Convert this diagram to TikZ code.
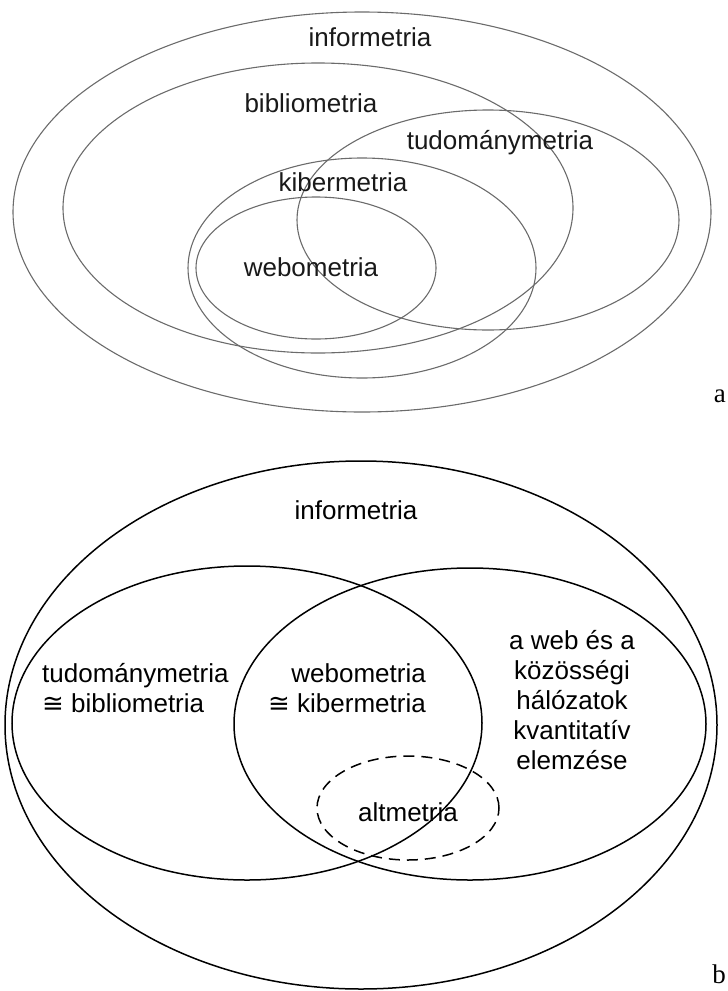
\documentclass[tikz,border=0pt]{standalone}
\usepackage{fontspec}
\setmainfont{Liberation Sans}
\newfontfamily\tagfont{Liberation Serif}
\newfontfamily\symfont{DejaVu Sans}
\begin{document}
\begin{tikzpicture}[x=1pt,y=-1pt]
\definecolor{ringgray}{gray}{0.42}
\tikzset{
  thinring/.style = {draw = ringgray, line width = 1.1pt},
  ring/.style = {draw = black, line width = 1.5pt},
  altring/.style = {ring, dash pattern = on 11pt off 7pt},
  lbl/.style = {inner sep = 0pt, font = \fontsize{26}{30}\selectfont},
  tag/.style = {inner sep = 0pt, font = \tagfont\fontsize{27}{30}\selectfont}
}
\useasboundingbox (0,0) rectangle (728,991);
\foreach \cx/\cy/\rx/\ry in {362/212/349/200, 318/208/255/145, 488/220/191/110, 362/268/174/110, 316/268/120/71}
  \draw [thinring] (\cx,\cy) ellipse [x radius = \rx pt, y radius = \ry pt];
\node [lbl, text = black!90] (infoA) at (370,37) {informetria};
\node [lbl, text = black!90] (biblioA) at (311,103) {bibliometria};
\node [lbl, text = black!90] (tudA) at (500,143) {tudománymetria};
\node [lbl, text = black!90] (kiberA) at (343,182) {kibermetria};
\node [lbl, text = black!90] (webA) at (311,267) {webometria};
\node [tag, anchor = east] (tagA) at (726,396) {a};
\draw [ring] (361,725) ellipse [x radius = 356pt, y radius = 264pt];
\draw [ring] (247,723) ellipse [x radius = 235pt, y radius = 157pt];
\draw [ring] (470,724) ellipse [x radius = 236pt, y radius = 156pt];
\draw [altring] (408,808) ellipse [x radius = 91pt, y radius = 52pt];
\node [lbl] (infoB) at (356,510) {informetria};
\node [lbl, align = left, anchor = west] (tudB) at (42,688) {tudománymetria\\{\symfont ≅} bibliometria};
\node [lbl, align = right, anchor = east] (webB) at (426,688) {webometria\\{\symfont ≅} kibermetria};
\node [lbl, align = center] (socB) at (572,700) {a web és a\\közösségi\\hálózatok\\kvantitatív\\elemzése};
\node [lbl] (altB) at (408,812) {altmetria};
\node [tag, anchor = east] (tagB) at (726,974) {b};
\end{tikzpicture}
\end{document}
